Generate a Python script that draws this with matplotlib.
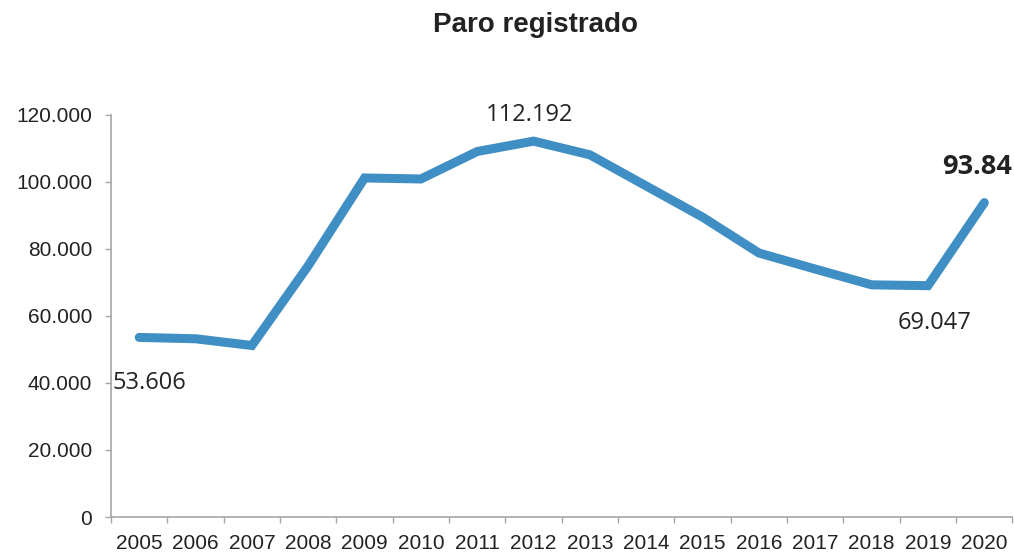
import matplotlib
matplotlib.use("Agg")
import matplotlib.pyplot as plt
from matplotlib.ticker import FuncFormatter, FixedLocator

# Paro registrado, 2005-2020
years = ["2005", "2006", "2007", "2008", "2009", "2010", "2011", "2012",
         "2013", "2014", "2015", "2016", "2017", "2018", "2019", "2020"]
paro = [53606, 53200, 51200, 75000, 101200, 100900, 109100, 112192,
        108100, 98800, 89500, 78800, 74000, 69300, 69047, 93840]

# labelled points: index -> (text, offset in points, bold)
labels = {
    0: ("53.606", (7, -33), False),
    7: ("112.192", (-3, 19), False),
    14: ("69.047", (5, -27), False),
    15: ("93.84", (-5, 26), True),
}

line_color = "#3f8fc4"
text_color = "#222222"
axis_color = "#a6a6a6"

plt.rcParams["font.family"] = ["Liberation Sans", "DejaVu Sans"]

fig = plt.figure(figsize=(10.14, 5.52), dpi=100)
ax = fig.add_axes([0.1095, 0.0634, 0.889, 0.7283])

x = list(range(len(years)))
ax.plot(x, paro, color=line_color, lw=6.5, solid_capstyle="round",
        solid_joinstyle="miter", zorder=3)

for i, (txt, off, bold) in labels.items():
    ax.annotate(txt, xy=(i, paro[i]), xytext=off, textcoords="offset points",
                ha="center", va="center", fontsize=19.5 if bold else 17,
                fontweight="bold" if bold else "normal",
                family=["Open Sans", "DejaVu Sans"], color=text_color,
                annotation_clip=False)

ax.set_xlim(-0.5, len(years) - 0.5)
ax.set_ylim(0, 120000)

# y axis
ax.set_yticks(range(0, 120001, 20000))
ax.yaxis.set_major_formatter(FuncFormatter(
    lambda v, p: "0" if v == 0 else f"{int(v):,}".replace(",", ".")))
ax.tick_params(axis="y", length=4.5, width=1, color=axis_color, pad=9,
               labelsize=15, labelcolor=text_color)

# x axis: labels at centres, tick marks between categories
ax.set_xticks(x)
ax.set_xticklabels(years)
ax.xaxis.set_minor_locator(FixedLocator([i - 0.5 for i in range(len(years) + 1)]))
ax.tick_params(axis="x", which="major", length=0, pad=12,
               labelsize=15, labelcolor=text_color)
ax.tick_params(axis="x", which="minor", length=4.5, width=1, color=axis_color)

for s in ["top", "right"]:
    ax.spines[s].set_visible(False)
for s in ["left", "bottom"]:
    ax.spines[s].set_color(axis_color)
    ax.spines[s].set_linewidth(1.2)

fig.text(0.528, 0.955, "Paro registrado", ha="center", va="center",
         fontsize=20, fontweight="bold", color=text_color)

fig.savefig("out.png", dpi=100)
